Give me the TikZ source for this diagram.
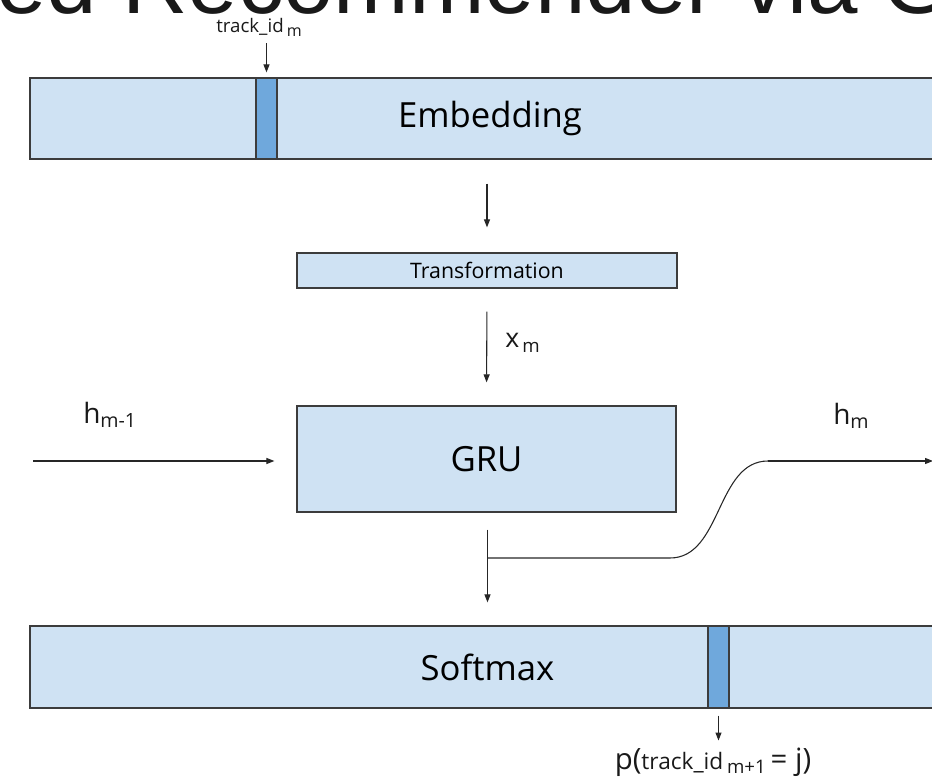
\documentclass[tikz,border=0pt]{standalone}
\usepackage{fontspec}
\setmainfont{Open Sans}
\newfontfamily\titlefont{Liberation Sans}
\definecolor{barblue}{HTML}{CFE2F3}
\definecolor{cellblue}{HTML}{6FA8DC}
\definecolor{edgegray}{HTML}{3C3C3C}
\usetikzlibrary{arrows.meta,positioning,calc}

\begin{document}
\begin{tikzpicture}[x=0.75pt, y=-0.75pt,
  bar/.style={draw=edgegray, fill=barblue, line width=0.9pt, inner sep=0pt},
  cell/.style={draw=edgegray, fill=cellblue, line width=0.9pt, inner sep=0pt, minimum width=15.75pt},
  arr/.style={-{Triangle[length=6pt,width=4.5pt]}, line width=0.8pt, black!85},
  wire/.style={line width=0.8pt, black!85},
  lbl/.style={inner sep=0pt, text=black!90}]
  \useasboundingbox (0,0) rectangle (932,777);
  \clip (0,0) rectangle (932,777);

  % title, cut off by the top edge
  \node[lbl, anchor=base west, text depth=0pt, font=\titlefont\fontsize{68}{68}\selectfont] (title) at (-4,14) {ed Recommender via G};

  % embedding lookup
  \node[bar, minimum width=690pt, minimum height=60.75pt, font=\fontsize{26}{30}\selectfont] (embed) at (490,118.5) {Embedding};
  \node[cell, minimum height=60.75pt] (incell) at (266.5,118.5) {};
  \node[lbl, anchor=base, font=\fontsize{14}{16}\selectfont] (trackin) at (259,33) {track\_id\,\raisebox{-0.35ex}{\fontsize{12}{14}\selectfont m}};
  \draw[arr, shorten <=5pt, shorten >=3.75pt] (trackin.south -| incell.north) -- (incell.north);

  % transformation and GRU
  \node[bar, minimum width=285pt, minimum height=26.25pt, font=\fontsize{16}{19}\selectfont] (trans) at (487,270.5) {Transformation};
  \node[bar, minimum width=284.25pt, minimum height=79.5pt, font=\fontsize{26}{30}\selectfont] (gru) at (486.5,459) {GRU};
  \draw[arr, shorten <=18pt, shorten >=18.75pt] (embed.south -| trans.north) -- (trans.north);
  \draw[arr, shorten <=17.25pt, shorten >=17.25pt] (trans.south) -- (gru.north);
  \node[lbl, anchor=base west, font=\fontsize{20}{24}\selectfont] (xlbl) at (505,348) {x\textsubscript{\,m}};

  % hidden state in
  \coordinate (hin) at (33,461);
  \draw[arr, shorten >=16.5pt] (hin) -- (hin -| gru.west);
  \node[lbl, anchor=base west, font=\fontsize{21}{24}\selectfont] (hprev) at (83,423) {h\textsubscript{m-1}};

  % output split: softmax and hidden state out
  \node[bar, minimum width=686.25pt, minimum height=61.5pt, font=\fontsize{26}{30}\selectfont] (soft) at (487.5,667) {Softmax};
  \node[cell, minimum height=61.5pt] (outcell) at (718.5,667) {};
  \coordinate (split) at (487.5,558);
  \coordinate (hout) at (933,461);
  \draw[arr, shorten <=12.75pt, shorten >=17.25pt] (gru.south -| split) -- (soft.north -| split);
  \draw[wire] (split) -- (670,558) .. controls (722,558) and (716,461) .. (768,461);
  \draw[arr] (768,461) -- (hout);
  \node[lbl, anchor=base west, font=\fontsize{21}{24}\selectfont] (hnext) at (833,424) {h\textsubscript{m}};

  % predicted next track
  \node[lbl, anchor=base, font=\fontsize{17}{20}\selectfont] (pnext) at (713,769) {{\fontsize{22}{25}\selectfont p(}track\_id\,\raisebox{-0.4ex}{\fontsize{14}{16}\selectfont m+1}{\fontsize{22}{25}\selectfont\,= j)}};
  \draw[arr, shorten <=5.25pt, shorten >=5pt] (outcell.south) -- (outcell.south |- pnext.north);
\end{tikzpicture}
\end{document}
